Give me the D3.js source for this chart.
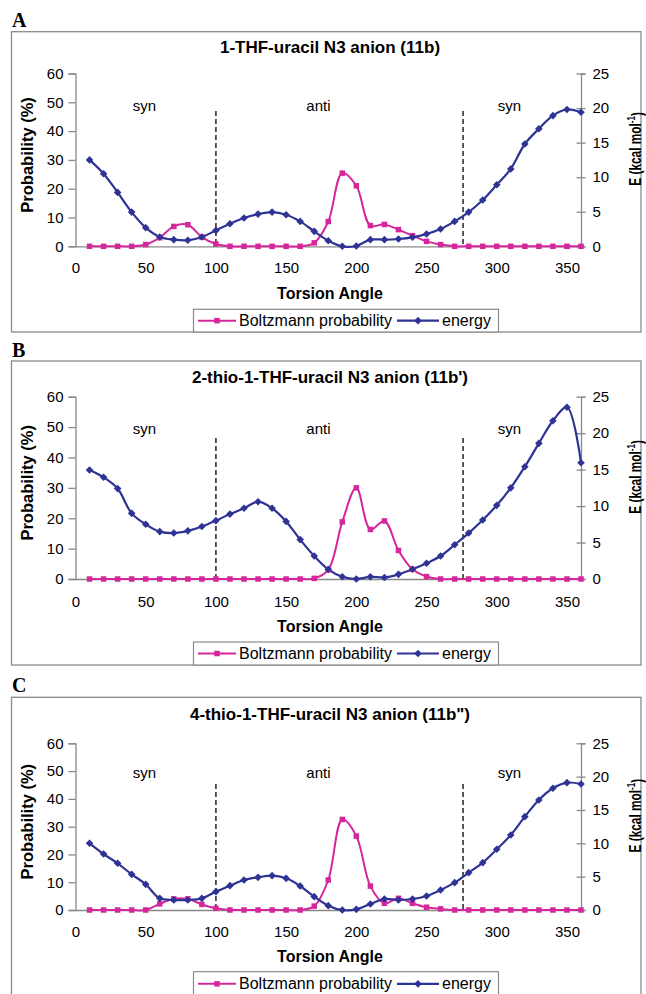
<!DOCTYPE html>
<html><head><meta charset="utf-8">
<script src="https://cdn.jsdelivr.net/npm/d3@7"></script>
<style>
body{margin:0;background:#fff}
svg{display:block}
text{font-family:"Liberation Sans",Arial,Helvetica,sans-serif;fill:#000}
</style>
</head><body>
<script>
// ---------------- data ----------------
const angles = [10,20,30,40,50,60,70,80,90,100,110,120,130,140,150,160,170,180,190,200,210,220,230,240,250,260,270,280,290,300,310,320,330,340,350,360];

const probA   = [0,0,0,0,0.6,3,6.9,7.5,3.2,0.8, 0,0,0,0,0,0, 1.2,8.6,25.4,21,7.2,7.6,5.8,3.7,1.7,0.6, 0,0,0,0,0,0,0,0,0,0];
const energyA = [12.5,10.5,7.8,4.95,2.7,1.35,0.96,0.87,1.35,2.3, 3.27,4.1,4.66,4.95,4.57,3.6,2.16,0.8,0,0.05, 0.96,0.96,1.06,1.3,1.78,2.5,3.6,4.95,6.7,8.9, 11.2,14.8,17.0,18.9,19.8,19.4];

const probB   = [0,0,0,0,0,0,0,0,0,0, 0,0,0,0,0,0,0.2, 3.0,18.8,30,16.3,19.1,9.4,3.2,0.8, 0,0,0,0,0,0,0,0,0,0,0];
const energyB = [14.95,13.95,12.4,9.0,7.5,6.5,6.3,6.6,7.2,8.0, 8.9,9.7,10.6,9.7,7.9,5.4,3.15,1.33,0.3,0, 0.3,0.2,0.64,1.33,2.15,3.15,4.7,6.3,8.1,10.1, 12.5,15.4,18.6,21.7,23.55,15.95];

const probC   = [0,0,0,0,0,2.2,4.0,4.0,2.0,0.6, 0,0,0,0,0,0, 1.4,10.8,32.6,26.6,8.6,2.4,4.2,2.4,1.0,0.4, 0,0,0,0,0,0,0,0,0,0];
const energyC = [10.0,8.4,7.0,5.35,3.85,1.75,1.5,1.5,1.75,2.75, 3.65,4.5,4.9,5.15,4.75,3.6,2.0,0.65,0,0.1, 0.9,1.65,1.5,1.65,2.1,3.0,4.1,5.6,7.1,9.1, 11.25,14.0,16.5,18.25,19.1,18.9];

const xTicks      = [0,50,100,150,200,250,300,350];
const probTicks   = [0,10,20,30,40,50,60];
const energyTicks = [0,5,10,15,20,25];
const zoneLines   = [100,276];
const zoneLabels  = [{text:"syn",at:49},{text:"anti",at:173},{text:"syn",at:309}];
const panelLetters = ["A","B","C"];
const panelTitles  = ["1-THF-uracil N3 anion (11b)","2-thio-1-THF-uracil N3 anion (11b')","4-thio-1-THF-uracil N3 anion (11b\")"];
const seriesNames  = ["Boltzmann probability","energy"];
const probSeries   = [probA, probB, probC];
const energySeries = [energyA, energyB, energyC];

// ---------------- layout ----------------
const W = 646, H = 994;
const PINK = "#d5279b", BLUE = "#2f3394", AXIS = "#888";
const layouts = [
  {letterY:27,  frameTop:31.7,  frameBot:332, titleY:47.5, yTop:73.5,  yBot:246.3, zoneY:105, dashTop:111, xLabY:268,   xTitleY:293,   legTop:309.3, legBot:332},
  {letterY:357, frameTop:361,   frameBot:665, titleY:377.5,yTop:396.7, yBot:579,   zoneY:428, dashTop:438, xLabY:601.7, xTitleY:626.7, legTop:642,   legBot:665},
  {letterY:692, frameTop:697.3, frameBot:996, titleY:714,  yTop:743.3, yBot:910,   zoneY:772, dashTop:784, xLabY:931.7, xTitleY:956.7, legTop:971.7, legBot:996}
];
const xL = 75.5, xR = 581;

const svg = d3.select("body").append("svg").attr("width", W).attr("height", H);
const x = d3.scaleLinear().domain([0,360]).range([xL, xR]);

function diamond(g, cx, cy, r, color){
  g.append("path").attr("d", `M${cx},${cy-r}L${cx+r},${cy}L${cx},${cy+r}L${cx-r},${cy}Z`).attr("fill", color);
}
function square(g, cx, cy, s, color){
  g.append("rect").attr("x", cx-s/2).attr("y", cy-s/2).attr("width", s).attr("height", s).attr("fill", color);
}

layouts.forEach((L, i) => {
  const g = svg.append("g");
  const yP = d3.scaleLinear().domain([0,60]).range([L.yBot, L.yTop]);
  const yE = d3.scaleLinear().domain([0,25]).range([L.yBot, L.yTop]);

  // panel letter
  g.append("text").attr("x", 12).attr("y", L.letterY)
    .style("font-family", "'Liberation Serif','Times New Roman',serif")
    .style("font-weight", "bold").style("font-size", "20px").text(panelLetters[i]);

  // frame
  g.append("rect").attr("x", 11.5).attr("y", L.frameTop).attr("width", 629.5).attr("height", L.frameBot - L.frameTop)
    .attr("fill", "none").attr("stroke", "#8a8a8a").attr("stroke-width", 1.3);

  // title
  g.append("text").attr("x", 330).attr("y", L.titleY).attr("text-anchor", "middle").attr("dominant-baseline", "central")
    .style("font-weight", "bold").style("font-size", "17px").text(panelTitles[i]);

  // left axis
  const la = g.append("g").attr("transform", `translate(${xL},0)`)
    .call(d3.axisLeft(yP).tickValues(probTicks).tickSize(7).tickPadding(5).tickFormat(d3.format("d")));
  la.select(".domain").attr("stroke", AXIS).attr("stroke-width", 1.3);
  la.selectAll(".tick line").attr("stroke", AXIS).attr("stroke-width", 1.3);
  la.selectAll("text").style("font-size", "15px").style("font-family", "'Liberation Sans',Arial,sans-serif").attr("fill", "#000");

  // right axis
  const ra = g.append("g").attr("transform", `translate(${xR},0)`)
    .call(d3.axisRight(yE).tickValues(energyTicks).tickSize(4.5).tickPadding(7).tickFormat(d3.format("d")));
  ra.select(".domain").attr("stroke", AXIS).attr("stroke-width", 1.3);
  ra.selectAll(".tick line").attr("x1", -4.5).attr("x2", 4.5).attr("stroke", AXIS).attr("stroke-width", 1.3);
  ra.selectAll("text").style("font-size", "15px").style("font-family", "'Liberation Sans',Arial,sans-serif").attr("fill", "#000");

  // x axis (no ticks)
  const xa = g.append("g").attr("transform", `translate(0,${L.yBot})`)
    .call(d3.axisBottom(x).tickValues(xTicks).tickSize(0).tickPadding(L.xLabY - L.yBot - 5.3).tickFormat(d3.format("d")));
  xa.select(".domain").attr("stroke", AXIS).attr("stroke-width", 1.3);
  xa.selectAll("text").style("font-size", "15px").style("font-family", "'Liberation Sans',Arial,sans-serif").attr("fill", "#000");

  // zone dashed lines
  zoneLines.forEach(v => {
    g.append("line").attr("x1", x(v)).attr("x2", x(v)).attr("y1", L.dashTop).attr("y2", L.yBot)
      .attr("stroke", "#222").attr("stroke-width", 1.5).attr("stroke-dasharray", "5,3");
  });
  zoneLabels.forEach(z => {
    g.append("text").attr("x", x(z.at)).attr("y", L.zoneY).attr("text-anchor", "middle").attr("dominant-baseline", "central")
      .style("font-size", "15px").text(z.text);
  });

  // axis titles
  g.append("text").attr("x", 330).attr("y", L.xTitleY).attr("text-anchor", "middle").attr("dominant-baseline", "central")
    .style("font-weight", "bold").style("font-size", "16px").text("Torsion Angle");
  const midY = (L.yTop + L.yBot) / 2;
  g.append("text").attr("transform", `translate(27,${midY - 5}) rotate(-90)`).attr("text-anchor", "middle").attr("dominant-baseline", "central")
    .style("font-weight", "bold").style("font-size", "16.5px").text("Probability (%)");
  const et = g.append("text").attr("transform", `translate(635,${midY - 11}) rotate(-90) scale(0.74,1)`).attr("text-anchor", "middle").attr("dominant-baseline", "central")
    .style("font-weight", "bold").style("font-size", "16px");
  et.append("tspan").text("E (kcal mol");
  et.append("tspan").attr("dy", "-0.45em").style("font-size", "11px").text("-1");
  et.append("tspan").attr("dy", "0.45em").text(")");

  // series
  const probData = angles.map((a, k) => [a, probSeries[i][k]]);
  const enData = angles.map((a, k) => [a, energySeries[i][k]]);
  const lp = d3.line().x(d => x(d[0])).y(d => yP(d[1])).curve(d3.curveCatmullRom.alpha(0.5));
  const le = d3.line().x(d => x(d[0])).y(d => yE(d[1])).curve(d3.curveCatmullRom.alpha(0.5));
  g.append("path").attr("d", lp(probData)).attr("fill", "none").attr("stroke", PINK).attr("stroke-width", 2);
  g.append("path").attr("d", le(enData)).attr("fill", "none").attr("stroke", BLUE).attr("stroke-width", 2.2);
  probData.forEach(d => square(g, x(d[0]), yP(d[1]), 5.5, PINK));
  enData.forEach(d => diamond(g, x(d[0]), yE(d[1]), 3.8, BLUE));

  // legend
  const lg = g.append("g");
  lg.append("rect").attr("x", 193.5).attr("y", L.legTop).attr("width", 305).attr("height", L.legBot - L.legTop)
    .attr("fill", "#fff").attr("stroke", "#8a8a8a").attr("stroke-width", 1.2);
  const ly = (L.legTop + L.legBot) / 2;
  lg.append("line").attr("x1", 198).attr("x2", 236).attr("y1", ly).attr("y2", ly).attr("stroke", PINK).attr("stroke-width", 2);
  square(lg, 217, ly, 5.5, PINK);
  lg.append("text").attr("x", 239).attr("y", ly).attr("dominant-baseline", "central").style("font-size", "16px").text(seriesNames[0]);
  lg.append("line").attr("x1", 397).attr("x2", 439).attr("y1", ly).attr("y2", ly).attr("stroke", BLUE).attr("stroke-width", 2.2);
  diamond(lg, 418, ly, 3.8, BLUE);
  lg.append("text").attr("x", 442).attr("y", ly).attr("dominant-baseline", "central").style("font-size", "16px").text(seriesNames[1]);
});
</script>
</body></html>
